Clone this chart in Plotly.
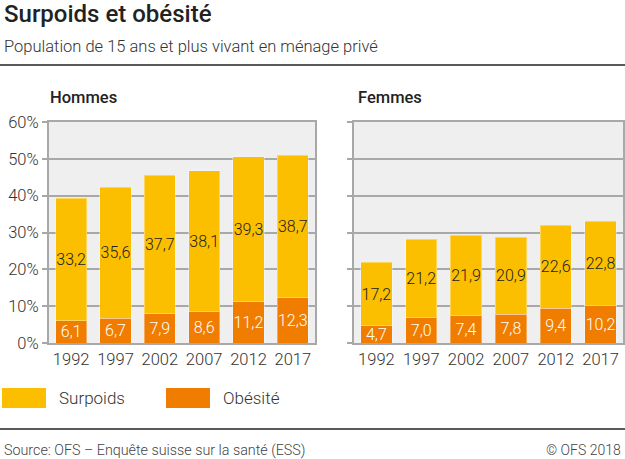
import plotly.graph_objects as go
from plotly.subplots import make_subplots

# Data (in %), population 15+ living in private households
years = ["1992", "1997", "2002", "2007", "2012", "2017"]
hommes_obesite = [6.1, 6.7, 7.9, 8.6, 11.2, 12.3]
hommes_surpoids = [33.2, 35.6, 37.7, 38.1, 39.3, 38.7]
femmes_obesite = [4.7, 7.0, 7.4, 7.8, 9.4, 10.2]
femmes_surpoids = [17.2, 21.2, 21.9, 20.9, 22.6, 22.8]

col_surpoids = "#fbbf00"
col_obesite = "#f07d00"
font_family = "Roboto, 'Noto Sans', sans-serif"

fig = make_subplots(rows=1, cols=2, shared_yaxes=True)

panels = [(hommes_obesite, hommes_surpoids, 1), (femmes_obesite, femmes_surpoids, 2)]
for obes, surp, col in panels:
    fig.add_trace(go.Bar(
        x=years, y=obes, name="Obésité", marker_color=col_obesite,
        marker_line=dict(color="rgba(255,255,255,0.35)", width=1),
        texttemplate="%{y:.1f}", textposition="inside", insidetextanchor="middle",
        textangle=0, textfont=dict(color="white", size=16, weight=300), constraintext="none",
        showlegend=False), row=1, col=col)
    fig.add_trace(go.Bar(
        x=years, y=surp, name="Surpoids", marker_color=col_surpoids,
        marker_line=dict(color="rgba(255,255,255,0.35)", width=1),
        texttemplate="%{y:.1f}", textposition="inside", insidetextanchor="middle",
        textangle=0, textfont=dict(color="#222222", size=16, weight=300), constraintext="none",
        showlegend=False), row=1, col=col)

y_dom = [1 - 343 / 459, 1 - 122 / 459]
fig.update_layout(
    width=625, height=459,
    margin=dict(l=0, r=0, t=0, b=0),
    barmode="stack", bargap=0.3,
    separators=", ",
    paper_bgcolor="white", plot_bgcolor="#efefef",
    font=dict(family=font_family, size=16, color="#333333", weight=300),
    xaxis=dict(domain=[49 / 625, 315 / 625]),
    xaxis2=dict(domain=[354 / 625, 623 / 625]),
    yaxis=dict(domain=y_dom),
    yaxis2=dict(domain=y_dom),
)
fig.update_xaxes(showline=True, mirror=True, linecolor="#a8a8a8", linewidth=2, automargin=False,
                 showgrid=False, ticks="", tickfont=dict(size=16.5, color="#333333", weight=300))
fig.update_yaxes(range=[0, 60], dtick=10, ticksuffix="%", showline=True, mirror=True,
                 linecolor="#a8a8a8", linewidth=2, gridcolor="#a8a8a8", gridwidth=1.5,
                 ticks="outside", ticklen=5, tickcolor="#a8a8a8", tickwidth=1.5, automargin=False,
                 zeroline=False, tickfont=dict(size=16.5, color="#333333", weight=300))

# Title, subtitle, panel titles
fig.add_annotation(text="Surpoids et obésité", x=2 / 625, y=1 - 14 / 459, xref="paper", yref="paper",
                   xanchor="left", yanchor="middle", showarrow=False,
                   font=dict(size=24, color="#222222", weight=500))
fig.add_annotation(text="Population de 15 ans et plus vivant en ménage privé", x=2 / 625, y=1 - 46 / 459,
                   xref="paper", yref="paper", xanchor="left", yanchor="middle", showarrow=False,
                   font=dict(size=16.5, color="#333333", weight=300))
for label, xpx in [("Hommes", 48), ("Femmes", 356)]:
    fig.add_annotation(text=label, x=xpx / 625, y=1 - 98 / 459, xref="paper", yref="paper",
                       xanchor="left", yanchor="middle", showarrow=False,
                       font=dict(size=16.5, color="#222222", weight=500))

# Separator lines
for ypx in [65, 429]:
    fig.add_shape(type="line", x0=0, x1=1, y0=1 - ypx / 459, y1=1 - ypx / 459,
                  xref="paper", yref="paper", line=dict(color="#5a5a5a", width=2))

# Legend drawn manually (large swatches)
for label, color, x0 in [("Surpoids", col_surpoids, 2), ("Obésité", col_obesite, 166)]:
    fig.add_shape(type="rect", x0=x0 / 625, x1=(x0 + 44) / 625, y0=1 - 408 / 459, y1=1 - 388 / 459,
                  xref="paper", yref="paper", fillcolor=color, line=dict(width=0))
    fig.add_annotation(text=label, x=(x0 + 55) / 625, y=1 - 398 / 459, xref="paper", yref="paper",
                       xanchor="left", yanchor="middle", showarrow=False,
                       font=dict(size=17, color="#333333", weight=300))

# Source and copyright
fig.add_annotation(text="Source: OFS – Enquête suisse sur la santé (ESS)", x=2 / 625, y=1 - 450 / 459,
                   xref="paper", yref="paper", xanchor="left", yanchor="middle", showarrow=False,
                   font=dict(size=14.3, color="#444444", weight=300))
fig.add_annotation(text="© OFS 2018", x=623 / 625, y=1 - 450 / 459,
                   xref="paper", yref="paper", xanchor="right", yanchor="middle", showarrow=False,
                   font=dict(size=14, color="#444444", weight=300))

# the page's default body margin would push the figure out of the window
fig.write_html("out.html", config={"displayModeBar": False},
               post_script="document.body.style.margin='0';")
